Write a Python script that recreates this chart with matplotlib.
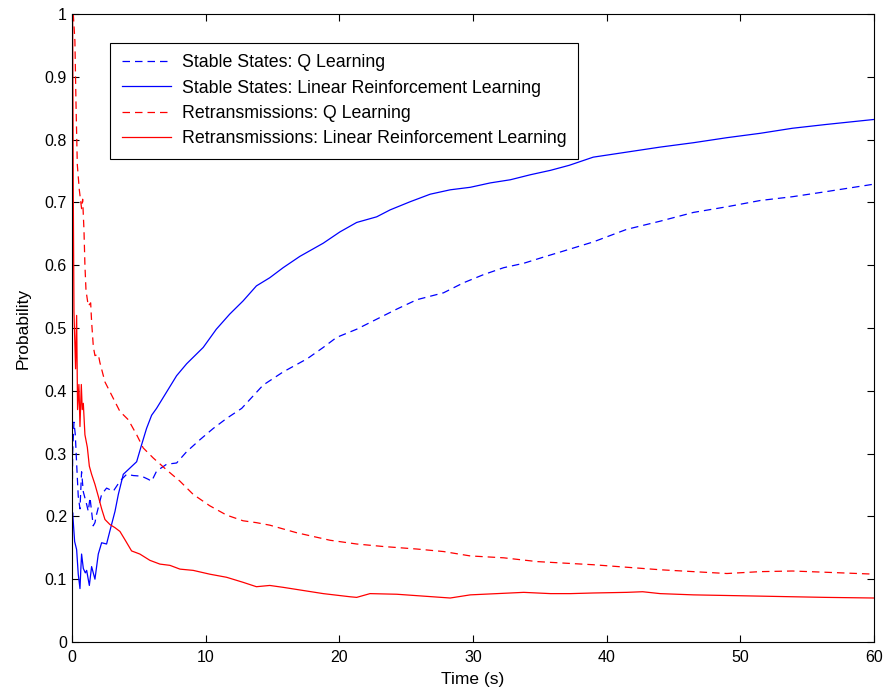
import matplotlib
matplotlib.use("Agg")
import matplotlib.pyplot as plt

plt.rcParams['font.family'] = ['Liberation Sans', 'DejaVu Sans']

# Stable States: Linear Reinforcement Learning
t_stable_lrl = [0, 0.03, 0.05, 0.2, 0.35, 0.47, 0.6, 0.66, 0.72, 0.85, 1.0, 1.1, 1.3, 1.47,
                1.72, 1.97, 2.22, 2.59, 2.84, 3.22, 3.47, 3.84, 4.34, 4.84, 5.21, 5.58, 5.96,
                6.33, 7.08, 7.83, 8.58, 9.82, 10.8, 11.8, 12.8, 13.8, 14.8, 15.8, 17.05, 18.8,
                20.05, 21.3, 22.8, 23.8, 25.3, 26.8, 28.3, 29.8, 31.3, 32.8, 34.3, 35.8, 37.2,
                39.0, 41.5, 44.0, 46.5, 49.0, 51.5, 53.9, 56.4, 60]
v_stable_lrl = [0, 0.2, 0.206, 0.16, 0.147, 0.108, 0.085, 0.114, 0.14, 0.117, 0.11, 0.114, 0.09,
                0.12, 0.1, 0.14, 0.158, 0.156, 0.177, 0.208, 0.235, 0.267, 0.277, 0.287, 0.314,
                0.34, 0.361, 0.372, 0.398, 0.424, 0.443, 0.469, 0.498, 0.522, 0.543, 0.567,
                0.58, 0.596, 0.614, 0.635, 0.653, 0.668, 0.677, 0.688, 0.701, 0.713, 0.72,
                0.724, 0.731, 0.736, 0.744, 0.751, 0.759, 0.772, 0.78, 0.788, 0.795, 0.803,
                0.81, 0.818, 0.824, 0.832]

# Stable States: Q Learning
t_stable_q = [0.02, 0.05, 0.15, 0.25, 0.35, 0.47, 0.6, 0.72, 0.85, 1.1, 1.22, 1.35, 1.59, 1.72,
              1.84, 2.22, 2.59, 3.09, 3.59, 4.09, 4.59, 5.21, 5.71, 5.96, 6.33, 7.08, 7.83,
              8.58, 9.57, 10.57, 11.57, 12.7, 14.3, 15.8, 17.6, 18.8, 19.8, 21.3, 22.8, 24.3,
              25.8, 27.8, 29.3, 30.8, 32.3, 33.8, 35.3, 36.7, 39.0, 41.5, 44.0, 46.5, 49.0,
              51.5, 53.9, 56.4, 60]
v_stable_q = [0.2, 0.30, 0.35, 0.33, 0.284, 0.232, 0.212, 0.271, 0.239, 0.219, 0.208, 0.23,
              0.185, 0.19, 0.203, 0.235, 0.245, 0.24, 0.256, 0.267, 0.265, 0.264, 0.259, 0.256,
              0.272, 0.283, 0.285, 0.303, 0.322, 0.34, 0.356, 0.372, 0.409, 0.43, 0.451, 0.469,
              0.485, 0.498, 0.514, 0.53, 0.545, 0.556, 0.572, 0.585, 0.596, 0.603, 0.613,
              0.622, 0.637, 0.657, 0.670, 0.684, 0.693, 0.703, 0.709, 0.717, 0.729]

# Retransmissions: Q Learning
t_retx_q = [0.1, 0.22, 0.3, 0.4, 0.55, 0.72, 0.8, 0.9, 0.97, 1.05, 1.22, 1.4, 1.47, 1.6, 1.72,
            1.97, 2.09, 2.47, 2.97, 3.59, 4.21, 4.84, 5.33, 6.08, 7.08, 8.08, 9.07, 10.3,
            11.57, 12.8, 13.8, 14.8, 16.8, 19.3, 21.3, 23.3, 25.8, 27.8, 29.8, 32.3, 34.8,
            37.3, 39.0, 41.5, 44.0, 46.5, 49.0, 51.5, 53.9, 56.4, 60]
v_retx_q = [1.0, 0.957, 0.86, 0.76, 0.72, 0.69, 0.705, 0.655, 0.6, 0.56, 0.535, 0.54, 0.51,
            0.47, 0.456, 0.458, 0.445, 0.414, 0.393, 0.367, 0.354, 0.33, 0.309, 0.293, 0.274,
            0.256, 0.235, 0.217, 0.202, 0.193, 0.19, 0.186, 0.174, 0.162, 0.156, 0.152, 0.148,
            0.144, 0.137, 0.134, 0.128, 0.125, 0.123, 0.119, 0.115, 0.112, 0.109, 0.112,
            0.113, 0.111, 0.108]

# Retransmissions: Linear Reinforcement Learning
t_retx_lrl = [0, 0.01, 0.05, 0.1, 0.15, 0.27, 0.35, 0.42, 0.52, 0.6, 0.7, 0.77, 0.85, 0.97,
              1.15, 1.3, 1.47, 1.72, 1.97, 2.22, 2.47, 2.84, 3.22, 3.59, 3.96, 4.46, 5.08,
              5.83, 6.58, 7.33, 8.08, 9.07, 10.3, 11.57, 12.8, 13.8, 14.8, 15.8, 17.3, 18.8,
              20.8, 21.3, 22.3, 24.3, 26.3, 28.3, 29.8, 31.8, 33.8, 35.8, 37.3, 39.0, 41.5,
              42.7, 44.0, 46.5, 49.0, 51.5, 53.9, 56.4, 60]
v_retx_lrl = [0, 1.0, 1.0, 0.71, 0.526, 0.435, 0.52, 0.37, 0.41, 0.343, 0.41, 0.37, 0.38,
              0.33, 0.31, 0.28, 0.267, 0.251, 0.232, 0.212, 0.195, 0.187, 0.182, 0.176, 0.163,
              0.145, 0.14, 0.13, 0.124, 0.122, 0.116, 0.114, 0.108, 0.103, 0.095, 0.088, 0.09,
              0.087, 0.082, 0.077, 0.072, 0.071, 0.077, 0.076, 0.073, 0.07, 0.075, 0.077,
              0.079, 0.077, 0.077, 0.078, 0.079, 0.08, 0.077, 0.075, 0.074, 0.073, 0.072,
              0.071, 0.07]

xticks = [0, 10, 20, 30, 40, 50, 60]
yticks = [0, 0.1, 0.2, 0.3, 0.4, 0.5, 0.6, 0.7, 0.8, 0.9, 1]
ytick_labels = ['0', '0.1', '0.2', '0.3', '0.4', '0.5', '0.6', '0.7', '0.8', '0.9', '1']

fig = plt.figure(figsize=(8.84, 6.95), dpi=100)
ax = fig.add_axes([0.0814, 0.0763, 0.9072, 0.9036])

dash = (0, (6, 4))
ax.plot(t_stable_q, v_stable_q, color='blue', lw=0.9, linestyle=dash,
        label='Stable States: Q Learning')
ax.plot(t_stable_lrl, v_stable_lrl, color='blue', lw=0.9,
        label='Stable States: Linear Reinforcement Learning')
ax.plot(t_retx_q, v_retx_q, color='red', lw=0.9, linestyle=dash,
        label='Retransmissions: Q Learning')
ax.plot(t_retx_lrl, v_retx_lrl, color='red', lw=0.9,
        label='Retransmissions: Linear Reinforcement Learning')

ax.set_xlim(0, 60)
ax.set_ylim(0, 1)
ax.set_xticks(xticks)
ax.set_yticks(yticks)
ax.set_yticklabels(ytick_labels)
ax.tick_params(direction='in', top=True, right=True, length=5, width=0.8, labelsize=11.5)
ax.tick_params(axis='x', pad=6)
ax.tick_params(axis='y', pad=3.5)
for s in ax.spines.values():
    s.set_linewidth(0.8)

ax.set_xlabel('Time (s)', fontsize=12.5, labelpad=5)
ax.set_ylabel('Probability', fontsize=12.5, labelpad=10)

leg = ax.legend(loc='upper left', bbox_to_anchor=(0.0474, 0.954), borderaxespad=0,
                fontsize=12.8, fancybox=False, framealpha=1, handlelength=2.8,
                handletextpad=0.6, labelspacing=0.46, borderpad=0.65)
leg.get_frame().set_edgecolor('black')
leg.get_frame().set_linewidth(0.8)

fig.savefig('out.png', dpi=100)
